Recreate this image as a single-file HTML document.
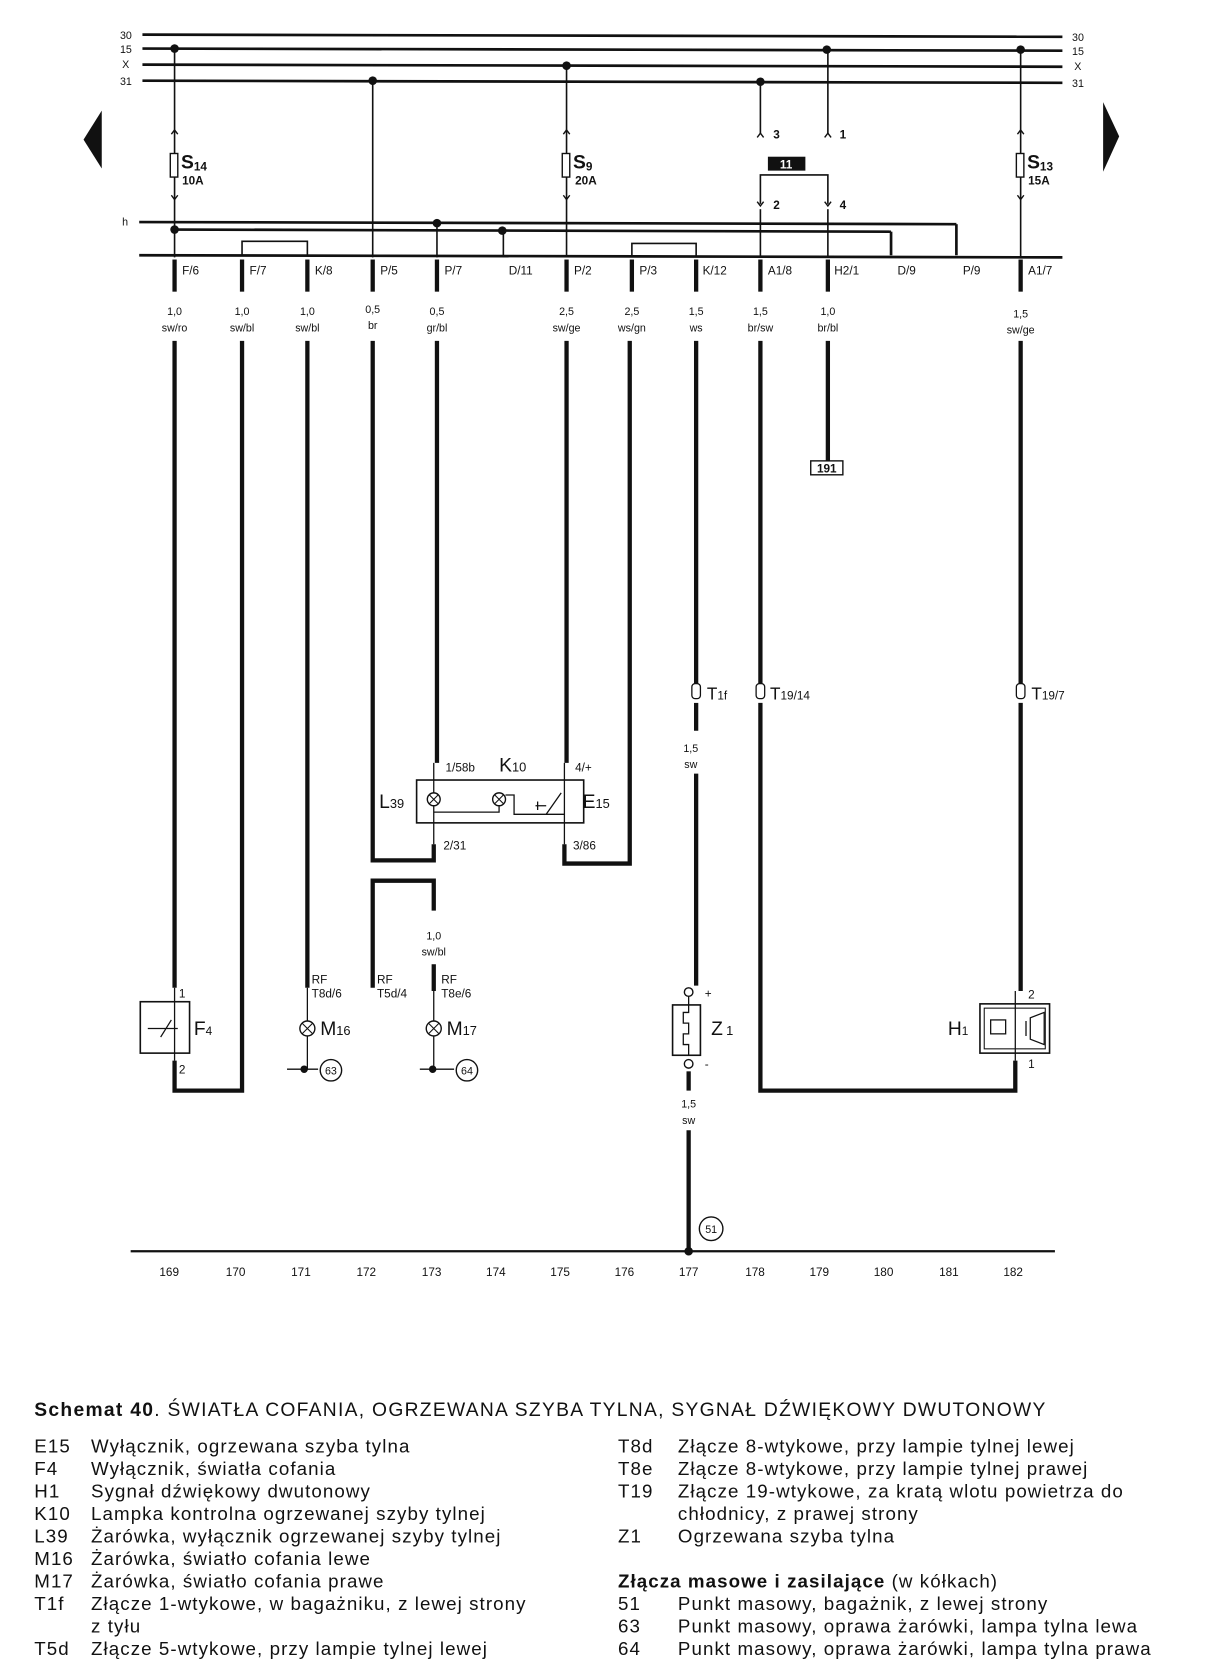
<!DOCTYPE html>
<html><head><meta charset="utf-8"><style>
html,body{margin:0;padding:0;background:#fff;}
svg{display:block}
text{font-family:"Liberation Sans",sans-serif;fill:#111}
.s{font-size:11px;font-weight:bold}
.m{font-size:10px}
.l{font-size:17.5px;letter-spacing:1px}
.c{font-size:18px;letter-spacing:1.2px}
</style></head><body>
<svg width="1207" height="1680" viewBox="0 0 1127 1568" xmlns="http://www.w3.org/2000/svg">
<g stroke="#111" fill="none">
<g stroke-width="2.5">
<line x1="133" y1="32" x2="992" y2="34"/>
<line x1="133" y1="45" x2="992" y2="47"/>
<line x1="133" y1="60" x2="992" y2="62"/>
<line x1="133" y1="75" x2="992" y2="77"/>
<line x1="130" y1="238" x2="992" y2="240"/>
<line x1="130" y1="207" x2="893" y2="209"/>
<polyline points="893,209 893,238"/>
<line x1="163" y1="214" x2="832" y2="216"/>
<polyline points="832,216 832,238"/>
</g>
<g stroke-width="1.5">
<line x1="163" y1="45" x2="163" y2="240"/>
<line x1="348" y1="76" x2="348" y2="240"/>
<line x1="529" y1="61" x2="529" y2="240"/>
<line x1="710" y1="76" x2="710" y2="125"/>
<line x1="773" y1="46" x2="773" y2="125"/>
<line x1="953" y1="46" x2="953" y2="240"/>
<polyline points="710,190 710,163 773,163 773,190"/>
<line x1="710" y1="195" x2="710" y2="240"/>
<line x1="773" y1="195" x2="773" y2="240"/>
<line x1="408" y1="208" x2="408" y2="240"/>
<line x1="470" y1="215" x2="470" y2="240"/>
<polyline points="226,238 226,225 287,225 287,238"/>
<polyline points="590,239 590,227 650,227 650,239"/>
</g>
<!-- chevrons -->
<g stroke-width="1.3">
<path d="M160,125 l3,-4 l3,4 M160,182 l3,4 l3,-4"/>
<path d="M526,125 l3,-4 l3,4 M526,182 l3,4 l3,-4"/>
<path d="M950,125 l3,-4 l3,4 M950,182 l3,4 l3,-4"/>
<path d="M707,128 l3,-4 l3,4 M770,128 l3,-4 l3,4"/>
<path d="M707,188 l3,4 l3,-4 M770,188 l3,4 l3,-4"/>
</g>
<g stroke-width="1.3" fill="#fff">
<rect x="159" y="143" width="7" height="22"/>
<rect x="525" y="143" width="7" height="22"/>
<rect x="949" y="143" width="7" height="22"/>
</g>
<g stroke-width="4">
<line x1="163" y1="242" x2="163" y2="272"/><line x1="226" y1="242" x2="226" y2="272"/>
<line x1="287" y1="242" x2="287" y2="272"/><line x1="348" y1="242" x2="348" y2="272"/>
<line x1="408" y1="242" x2="408" y2="272"/><line x1="529" y1="242" x2="529" y2="272"/>
<line x1="590" y1="242" x2="590" y2="272"/><line x1="650" y1="242" x2="650" y2="272"/>
<line x1="710" y1="242" x2="710" y2="272"/><line x1="773" y1="242" x2="773" y2="272"/>
<line x1="953" y1="242" x2="953" y2="272"/>
</g>
<g stroke-width="4">
<line x1="163" y1="318" x2="163" y2="922"/>
<polyline points="163,990 163,1018 226,1018 226,318"/>
<line x1="287" y1="318" x2="287" y2="922"/>
<polyline points="348,318 348,803 405,803 405,788"/>
<line x1="408" y1="318" x2="408" y2="712"/>
<polyline points="348,922 348,822 405,822 405,850"/>
<line x1="405" y1="900" x2="405" y2="925"/>
<line x1="529" y1="318" x2="529" y2="712"/>
<polyline points="527,788 527,806 588,806 588,318"/>
<line x1="650" y1="318" x2="650" y2="640"/>
<line x1="650" y1="656" x2="650" y2="682"/>
<line x1="650" y1="722" x2="650" y2="920"/>
<line x1="643" y1="1000" x2="643" y2="1018"/>
<line x1="643" y1="1055" x2="643" y2="1168"/>
<line x1="710" y1="318" x2="710" y2="640"/>
<polyline points="710,656 710,1018 948,1018 948,990"/>
<line x1="773" y1="318" x2="773" y2="430"/>
<line x1="953" y1="318" x2="953" y2="640"/>
<line x1="953" y1="656" x2="953" y2="925"/>
</g>
<line x1="122" y1="1168" x2="985" y2="1168" stroke-width="2"/>
<rect x="389" y="728" width="156" height="40" stroke-width="1.5"/>
<line x1="405" y1="712" x2="405" y2="788" stroke-width="1.2"/>
<line x1="527" y1="712" x2="527" y2="788" stroke-width="1.2"/>
<circle cx="405" cy="746" r="6" fill="#fff" stroke-width="1.3"/>
<path d="M401,742 l8,8 M409,742 l-8,8" stroke-width="1"/>
<circle cx="466" cy="746" r="6" fill="#fff" stroke-width="1.3"/>
<path d="M462,742 l8,8 M470,742 l-8,8" stroke-width="1"/>
<polyline points="405,758 466,758 466,752" stroke-width="1.2"/>
<polyline points="472,742 480,742 480,760 527,760" stroke-width="1.2"/>
<path d="M510,760 L524,740 M500,752 h10 M502,748 v8" stroke-width="1.2"/>
<rect x="131" y="935" width="46" height="48" stroke-width="1.5"/>
<line x1="163" y1="922" x2="163" y2="990" stroke-width="1.2"/>
<path d="M138,960 h8 M150,968 L160,952 M146,960 h20" stroke-width="1.2"/>
<line x1="287" y1="922" x2="287" y2="998" stroke-width="1.2"/>
<circle cx="287" cy="960" r="7" fill="#fff" stroke-width="1.3"/>
<path d="M282,955 l10,10 M292,955 l-10,10" stroke-width="1"/>
<line x1="268" y1="998" x2="297" y2="998" stroke-width="1.3"/>
<circle cx="284" cy="998" r="3" fill="#111"/>
<circle cx="309" cy="999" r="10" stroke-width="1.3"/>
<line x1="405" y1="925" x2="405" y2="998" stroke-width="1.2"/>
<circle cx="405" cy="960" r="7" fill="#fff" stroke-width="1.3"/>
<path d="M400,955 l10,10 M410,955 l-10,10" stroke-width="1"/>
<line x1="392" y1="998" x2="424" y2="998" stroke-width="1.3"/>
<circle cx="404" cy="998" r="3" fill="#111"/>
<circle cx="436" cy="999" r="10" stroke-width="1.3"/>
<circle cx="643" cy="926" r="4" stroke-width="1.3"/>
<rect x="628" y="938" width="26" height="47" stroke-width="1.5"/>
<path d="M643,930 v15 h-5 v10 h5 v10 h-5 v10 h5 v10" stroke-width="1.2"/>
<circle cx="643" cy="993" r="4" stroke-width="1.3"/>
<circle cx="664" cy="1147" r="11" stroke-width="1.3"/>
<circle cx="643" cy="1168" r="3.5" fill="#111"/>
<rect x="915" y="937" width="65" height="46" stroke-width="1.5"/>
<rect x="919" y="941" width="57" height="38" stroke-width="1"/>
<line x1="948" y1="925" x2="948" y2="990" stroke-width="1.2"/>
<rect x="925" y="952" width="14" height="13" stroke-width="1.2"/>
<path d="M958,953 v14 M962,950 v20 L975,975 V945 Z" stroke-width="1.2"/>
<rect x="757" y="430" width="30" height="13" stroke-width="1.3"/>
<rect x="646" y="638" width="8" height="14" rx="3" fill="#fff" stroke-width="1.2"/>
<rect x="706" y="638" width="8" height="14" rx="3" fill="#fff" stroke-width="1.2"/>
<rect x="949" y="638" width="8" height="14" rx="3" fill="#fff" stroke-width="1.2"/>
</g>
<g fill="#111">
<circle cx="163" cy="45" r="4"/><circle cx="772" cy="46" r="4"/><circle cx="953" cy="46" r="4"/>
<circle cx="529" cy="61" r="4"/><circle cx="348" cy="75" r="4"/><circle cx="710" cy="76" r="4"/>
<circle cx="408" cy="208" r="4"/><circle cx="163" cy="214" r="4"/><circle cx="469" cy="215" r="4"/>
<rect x="717" y="146" width="35" height="13"/>
<polygon points="95,103 95,157 78,130"/>
<polygon points="1030,95 1030,160 1045,127"/>
</g>
<text x="734" y="157" class="s" text-anchor="middle" style="fill:#fff">11</text>
<g class="m">
<text x="112" y="36">30</text><text x="112" y="49">15</text><text x="114" y="63">X</text><text x="112" y="79">31</text>
<text x="1001" y="38">30</text><text x="1001" y="51">15</text><text x="1003" y="65">X</text><text x="1001" y="81">31</text>
<text x="114" y="210">h</text>
</g>
<g class="s">
<text x="722" y="129">3</text><text x="784" y="129">1</text><text x="722" y="195">2</text><text x="784" y="195">4</text>
</g>
<text x="169" y="157" style="font-size:18px;font-weight:bold">S<tspan font-size="11" dy="2">14</tspan></text>
<text x="170" y="172" class="s">10A</text>
<text x="535" y="157" style="font-size:18px;font-weight:bold">S<tspan font-size="11" dy="2">9</tspan></text>
<text x="537" y="172" class="s">20A</text>
<text x="959" y="157" style="font-size:18px;font-weight:bold">S<tspan font-size="11" dy="2">13</tspan></text>
<text x="960" y="172" class="s">15A</text>
<g style="font-size:11px">
<text x="170" y="256">F/6</text><text x="233" y="256">F/7</text><text x="294" y="256">K/8</text>
<text x="355" y="256">P/5</text><text x="415" y="256">P/7</text><text x="475" y="256">D/11</text>
<text x="536" y="256">P/2</text><text x="597" y="256">P/3</text><text x="656" y="256">K/12</text>
<text x="717" y="256">A1/8</text><text x="779" y="256">H2/1</text><text x="838" y="256">D/9</text>
<text x="899" y="256">P/9</text><text x="960" y="256">A1/7</text>
</g>
<g class="m" text-anchor="middle">
<text x="163" y="294">1,0</text><text x="163" y="309">sw/ro</text>
<text x="226" y="294">1,0</text><text x="226" y="309">sw/bl</text>
<text x="287" y="294">1,0</text><text x="287" y="309">sw/bl</text>
<text x="348" y="292">0,5</text><text x="348" y="307">br</text>
<text x="408" y="294">0,5</text><text x="408" y="309">gr/bl</text>
<text x="529" y="294">2,5</text><text x="529" y="309">sw/ge</text>
<text x="590" y="294">2,5</text><text x="590" y="309">ws/gn</text>
<text x="650" y="294">1,5</text><text x="650" y="309">ws</text>
<text x="710" y="294">1,5</text><text x="710" y="309">br/sw</text>
<text x="773" y="294">1,0</text><text x="773" y="309">br/bl</text>
<text x="953" y="296">1,5</text><text x="953" y="311">sw/ge</text>
<text x="645" y="702">1,5</text><text x="645" y="717">sw</text>
<text x="405" y="877">1,0</text><text x="405" y="892">sw/bl</text>
<text x="643" y="1034">1,5</text><text x="643" y="1049">sw</text>
<text x="772" y="441" class="s">191</text>
<text x="664" y="1151" style="font-size:10px">51</text>
<text x="309" y="1003" style="font-size:10px">63</text>
<text x="436" y="1003" style="font-size:10px">64</text>
</g>
<text x="660" y="653" style="font-size:16px">T<tspan font-size="11">1f</tspan></text>
<text x="719" y="653" style="font-size:16px">T<tspan font-size="11">19/14</tspan></text>
<text x="963" y="653" style="font-size:16px">T<tspan font-size="11">19/7</tspan></text>
<g style="font-size:11px">
<text x="416" y="720">1/58b</text><text x="537" y="720">4/+</text>
<text x="414" y="793">2/31</text><text x="535" y="793">3/86</text>
<text x="291" y="918">RF</text><text x="291" y="931">T8d/6</text>
<text x="352" y="918">RF</text><text x="352" y="931">T5d/4</text>
<text x="412" y="918">RF</text><text x="412" y="931">T8e/6</text>
<text x="167" y="931">1</text><text x="167" y="1002">2</text>
<text x="658" y="931">+</text><text x="658" y="997">-</text>
<text x="960" y="932">2</text><text x="960" y="997">1</text>
</g>
<text x="466" y="720" style="font-size:18px">K<tspan font-size="12">10</tspan></text>
<text x="354" y="754" style="font-size:18px">L<tspan font-size="12">39</tspan></text>
<text x="544" y="754" style="font-size:18px">E<tspan font-size="12">15</tspan></text>
<text x="181" y="966" style="font-size:18px">F<tspan font-size="11">4</tspan></text>
<text x="299" y="966" style="font-size:18px">M<tspan font-size="12">16</tspan></text>
<text x="417" y="966" style="font-size:18px">M<tspan font-size="12">17</tspan></text>
<text x="664" y="966" style="font-size:18px">Z<tspan font-size="12" dx="3">1</tspan></text>
<text x="885" y="966" style="font-size:18px">H<tspan font-size="11">1</tspan></text>
<g style="font-size:11px" text-anchor="middle">
<text x="158" y="1191">169</text><text x="220" y="1191">170</text><text x="281" y="1191">171</text>
<text x="342" y="1191">172</text><text x="403" y="1191">173</text><text x="463" y="1191">174</text>
<text x="523" y="1191">175</text><text x="583" y="1191">176</text><text x="643" y="1191">177</text>
<text x="705" y="1191">178</text><text x="765" y="1191">179</text><text x="825" y="1191">180</text>
<text x="886" y="1191">181</text><text x="946" y="1191">182</text>
</g>
<text x="32" y="1322" class="c"><tspan font-weight="bold">Schemat 40</tspan>. ŚWIATŁA COFANIA, OGRZEWANA SZYBA TYLNA, SYGNAŁ DŹWIĘKOWY DWUTONOWY</text>
<g class="l">
<text x="32" y="1356">E15</text><text x="85" y="1356">Wyłącznik, ogrzewana szyba tylna</text>
<text x="32" y="1377">F4</text><text x="85" y="1377">Wyłącznik, światła cofania</text>
<text x="32" y="1398">H1</text><text x="85" y="1398">Sygnał dźwiękowy dwutonowy</text>
<text x="32" y="1419">K10</text><text x="85" y="1419">Lampka kontrolna ogrzewanej szyby tylnej</text>
<text x="32" y="1440">L39</text><text x="85" y="1440">Żarówka, wyłącznik ogrzewanej szyby tylnej</text>
<text x="32" y="1461">M16</text><text x="85" y="1461">Żarówka, światło cofania lewe</text>
<text x="32" y="1482">M17</text><text x="85" y="1482">Żarówka, światło cofania prawe</text>
<text x="32" y="1503">T1f</text><text x="85" y="1503">Złącze 1-wtykowe, w bagażniku, z lewej strony</text>
<text x="85" y="1524">z tyłu</text>
<text x="32" y="1545">T5d</text><text x="85" y="1545">Złącze 5-wtykowe, przy lampie tylnej lewej</text>
<text x="577" y="1356">T8d</text><text x="633" y="1356">Złącze 8-wtykowe, przy lampie tylnej lewej</text>
<text x="577" y="1377">T8e</text><text x="633" y="1377">Złącze 8-wtykowe, przy lampie tylnej prawej</text>
<text x="577" y="1398">T19</text><text x="633" y="1398">Złącze 19-wtykowe, za kratą wlotu powietrza do</text>
<text x="633" y="1419">chłodnicy, z prawej strony</text>
<text x="577" y="1440">Z1</text><text x="633" y="1440">Ogrzewana szyba tylna</text>
<text x="577" y="1482"><tspan font-weight="bold">Złącza masowe i zasilające</tspan> (w kółkach)</text>
<text x="577" y="1503">51</text><text x="633" y="1503">Punkt masowy, bagażnik, z lewej strony</text>
<text x="577" y="1524">63</text><text x="633" y="1524">Punkt masowy, oprawa żarówki, lampa tylna lewa</text>
<text x="577" y="1545">64</text><text x="633" y="1545">Punkt masowy, oprawa żarówki, lampa tylna prawa</text>
</g>
</svg>
</body></html>
